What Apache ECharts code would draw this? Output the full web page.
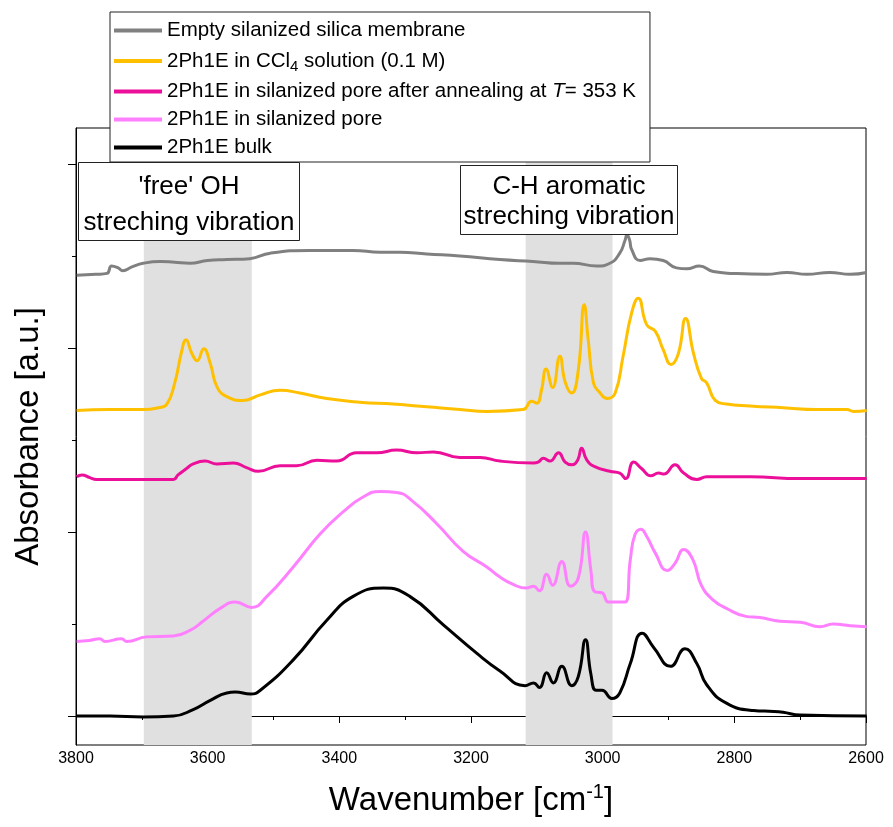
<!DOCTYPE html>
<html>
<head>
<meta charset="utf-8">
<script src="https://cdn.jsdelivr.net/npm/echarts@6/dist/echarts.min.js"></script>
<style>html,body{margin:0;padding:0;background:#fff;}#c{width:893px;height:827px;}</style>
</head>
<body>
<div id="c"></div>
<script>
// ---- data (wavenumber [cm^-1], absorbance [a.u., offset]) ----
const seriesNames = [
  'Empty silanized silica membrane',
  '2Ph1E in CCl4 solution (0.1 M)',
  '2Ph1E in silanized pore after annealing at T= 353 K',
  '2Ph1E in silanized pore',
  '2Ph1E bulk'
];
const emptyMembrane = [[3799,4.79],[3770,4.80],[3753,4.81],[3746,4.89],[3736,4.87],[3729,4.84],[3715,4.88],[3698,4.92],[3672,4.94],[3650,4.93],[3627,4.92],[3600,4.95],[3571,4.96],[3536,4.97],[3505,5.03],[3445,5.06],[3379,5.06],[3338,5.04],[3308,5.04],[3267,5.02],[3217,5.0],[3156,4.96],[3106,4.94],[3065,4.92],[3045,4.92],[3009,4.89],[2989,4.92],[2974,5.03],[2966,5.17],[2963,5.23],[2959,5.17],[2956,5.07],[2943,4.95],[2928,4.97],[2908,4.95],[2888,4.87],[2872,4.86],[2853,4.89],[2832,4.83],[2801,4.81],[2751,4.80],[2720,4.82],[2690,4.80],[2655,4.82],[2624,4.80],[2599,4.82]];
const ccl4Solution = [[3799,3.32],[3750,3.33],[3698,3.33],[3675,3.35],[3662,3.39],[3650,3.62],[3639,3.98],[3633,4.09],[3624,3.94],[3616,3.86],[3606,3.99],[3596,3.83],[3586,3.58],[3571,3.47],[3546,3.43],[3520,3.49],[3490,3.54],[3460,3.51],[3419,3.45],[3369,3.41],[3318,3.39],[3267,3.36],[3217,3.33],[3176,3.31],[3121,3.33],[3108,3.42],[3100,3.40],[3093,3.54],[3086,3.77],[3076,3.57],[3065,3.91],[3057,3.63],[3047,3.51],[3037,3.76],[3028,4.47],[3022,4.09],[3014,3.62],[3005,3.52],[2993,3.45],[2981,3.51],[2969,3.91],[2956,4.38],[2946,4.54],[2933,4.25],[2920,4.18],[2908,3.98],[2896,3.82],[2885,3.94],[2874,4.32],[2862,3.94],[2850,3.67],[2842,3.62],[2829,3.43],[2812,3.39],[2776,3.37],[2726,3.35],[2675,3.33],[2629,3.33],[2619,3.31],[2599,3.32]];
const annealedPore = [[3799,2.60],[3791,2.62],[3779,2.59],[3769,2.57],[3700,2.57],[3652,2.57],[3645,2.62],[3632,2.69],[3622,2.74],[3604,2.77],[3586,2.74],[3561,2.75],[3541,2.70],[3523,2.66],[3490,2.72],[3465,2.72],[3434,2.78],[3404,2.77],[3374,2.86],[3343,2.86],[3313,2.89],[3282,2.86],[3257,2.87],[3217,2.81],[3186,2.81],[3156,2.77],[3105,2.75],[3098,2.76],[3090,2.80],[3080,2.77],[3067,2.86],[3057,2.76],[3047,2.73],[3038,2.78],[3032,2.91],[3024,2.78],[3012,2.71],[2989,2.66],[2974,2.64],[2965,2.58],[2953,2.76],[2941,2.69],[2927,2.61],[2915,2.64],[2907,2.63],[2890,2.73],[2877,2.64],[2857,2.57],[2842,2.60],[2776,2.60],[2700,2.58],[2650,2.58],[2599,2.58]];
const silanizedPore = [[3799,0.81],[3780,0.82],[3764,0.84],[3756,0.81],[3731,0.84],[3723,0.81],[3693,0.86],[3652,0.87],[3627,0.93],[3607,1.03],[3581,1.17],[3558,1.24],[3533,1.18],[3510,1.30],[3470,1.62],[3429,1.98],[3394,2.22],[3364,2.38],[3338,2.44],[3313,2.43],[3288,2.33],[3252,2.09],[3212,1.79],[3176,1.62],[3156,1.51],[3136,1.43],[3116,1.39],[3105,1.41],[3096,1.36],[3085,1.54],[3076,1.42],[3062,1.68],[3049,1.41],[3037,1.50],[3026,2.00],[3018,1.59],[3012,1.35],[3001,1.34],[2991,1.24],[2966,1.24],[2958,1.70],[2951,1.97],[2942,2.03],[2933,1.95],[2920,1.77],[2902,1.58],[2890,1.66],[2877,1.81],[2863,1.70],[2850,1.42],[2832,1.26],[2812,1.17],[2781,1.08],[2761,1.07],[2731,1.03],[2700,1.02],[2670,0.97],[2650,1.00],[2624,0.98],[2599,0.97]];
const bulk = [[3799,0.0],[3748,0.0],[3698,-0.01],[3652,0.0],[3622,0.07],[3596,0.17],[3571,0.25],[3558,0.26],[3535,0.24],[3520,0.28],[3470,0.61],[3419,1.04],[3379,1.30],[3333,1.39],[3293,1.30],[3242,0.99],[3191,0.68],[3156,0.49],[3118,0.33],[3105,0.36],[3096,0.31],[3085,0.47],[3075,0.36],[3062,0.54],[3047,0.33],[3037,0.43],[3026,0.83],[3018,0.46],[3010,0.28],[3001,0.28],[2986,0.19],[2974,0.25],[2958,0.57],[2940,0.90],[2922,0.74],[2897,0.54],[2875,0.73],[2857,0.57],[2842,0.34],[2812,0.14],[2771,0.06],[2740,0.05],[2726,0.04],[2700,0.01],[2599,0.0]];
const shadedBands = [[3697, 3533], [3117, 2985]];
const xTickValues = [3800, 3600, 3400, 3200, 3000, 2800, 2600];
const yMajorTicks = [0, 2, 4, 6];
const yMinorTicks = [1, 3, 5];

const colors = ['#808080', '#FFC000', '#EC0F9A', '#FF80FF', '#000000'];
const allData = [emptyMembrane, ccl4Solution, annealedPore, silanizedPore, bulk];
const FONT = 'Liberation Sans, Arial, sans-serif';

const chart = echarts.init(document.getElementById('c'), null, {renderer: 'canvas'});
const series = allData.map((d, i) => ({
  name: seriesNames[i],
  type: 'line',
  data: d,
  symbol: 'none',
  smooth: 0.5,
  lineStyle: {color: colors[i], width: 3},
  itemStyle: {color: colors[i]},
  z: 3 + i,
  markArea: i === 0 ? {
    silent: true,
    z: 1,
    itemStyle: {color: '#e0e0e0'},
    data: shadedBands.map(b => [{xAxis: b[0]}, {xAxis: b[1]}])
  } : undefined
}));

const boxText = (x, y, t) => ({type: 'text', x: x, y: y, z: 101,
  style: {text: t, font: '26px ' + FONT, fill: '#000', textAlign: 'center', textVerticalAlign: 'middle'}});

const option = {
  animation: false,
  backgroundColor: '#fff',
  textStyle: {fontFamily: FONT},
  grid: {left: 76, right: 27, top: 128, bottom: 82, show: true, borderColor: '#000', borderWidth: 1, backgroundColor: 'transparent'},
  legend: {
    orient: 'vertical',
    left: 110, top: 12,
    backgroundColor: '#fff',
    borderColor: '#222', borderWidth: 1,
    padding: [8, 14, 4, 4],
    itemGap: 7,
    itemWidth: 48, itemHeight: 4,
    icon: 'rect',
    data: seriesNames,
    textStyle: {
      fontFamily: FONT, fontSize: 20.5, color: '#000', lineHeight: 20,
      rich: {
        sub: {fontFamily: FONT, fontSize: 15, color: '#000', lineHeight: 15, padding: [11, 0, 0, 0]},
        it: {fontFamily: FONT, fontSize: 20.5, color: '#000', fontStyle: 'italic', lineHeight: 20}
      }
    },
    formatter: function (n) {
      if (n === seriesNames[1]) return '2Ph1E in CCl{sub|4} solution (0.1 M)';
      if (n === seriesNames[2]) return '2Ph1E in silanized pore after annealing at {it|T}= 353 K';
      return n;
    },
    z: 20
  },
  xAxis: {
    type: 'value', min: 2600, max: 3800, interval: 200, inverse: true,
    axisLine: {show: true, lineStyle: {color: '#000', width: 1}},
    axisTick: {show: true, length: 7, lineStyle: {color: '#000'}},
    minorTick: {show: true, splitNumber: 2, length: 4, lineStyle: {color: '#000'}},
    splitLine: {show: false},
    axisLabel: {color: '#000', fontSize: 16, fontFamily: FONT, margin: 6,
      customValues: xTickValues, formatter: v => String(v)},
    name: '{a|Wavenumber [cm}{sup|-1}{a|]}',
    nameLocation: 'middle', nameGap: 37,
    nameTextStyle: {
      rich: {
        a: {fontFamily: FONT, fontSize: 33, color: '#000'},
        sup: {fontFamily: FONT, fontSize: 20, color: '#000', padding: [0, 0, 18, 0]}
      }
    }
  },
  yAxis: [{
    type: 'value', min: -0.315, max: 6.39,
    axisLine: {show: true, lineStyle: {color: '#000', width: 1}},
    axisTick: {show: true, length: 8, lineStyle: {color: '#000'}, customValues: yMajorTicks},
    axisLabel: {show: false},
    splitLine: {show: false},
    name: 'Absorbance [a.u.]',
    nameLocation: 'middle', nameGap: 31,
    nameTextStyle: {fontFamily: FONT, fontSize: 33, color: '#000'}
  }, {
    type: 'value', min: -0.315, max: 6.39, position: 'left',
    axisLine: {show: false},
    axisTick: {show: true, length: 4, lineStyle: {color: '#000'}, customValues: yMinorTicks},
    axisLabel: {show: false},
    splitLine: {show: false}
  }],
  series: series,
  graphic: [
    {
      type: 'group', left: 78, top: 162, z: 100,
      children: [
        {type: 'rect', z: 100, shape: {x: 0, y: 0, width: 221, height: 78}, style: {fill: '#fff', stroke: '#222', lineWidth: 1}},
        boxText(110.5, 24, "'free' OH"),
        boxText(110.5, 60, 'streching vibration')
      ]
    },
    {
      type: 'group', left: 460, top: 165, z: 100,
      children: [
        {type: 'rect', z: 100, shape: {x: 0, y: 0, width: 217, height: 69}, style: {fill: '#fff', stroke: '#222', lineWidth: 1}},
        boxText(108.5, 21.5, 'C-H aromatic'),
        boxText(108.5, 51.5, 'streching vibration')
      ]
    }
  ]
};
chart.setOption(option);
</script>
</body>
</html>
